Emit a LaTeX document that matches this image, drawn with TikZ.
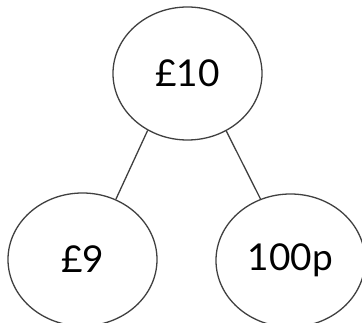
\documentclass[tikz,border=0pt]{standalone}
\usepackage{fontspec}
\setmainfont{Lato}
\usepackage{tikz}
\usetikzlibrary{shapes.geometric}
\tikzset{>=latex}
\tikzset{coin/.style={ellipse,draw=black!75,line width=1.3pt,minimum width=149pt,minimum height=133pt,inner sep=0pt,font=\fontsize{37}{44}\selectfont}}

\begin{document}
\begin{tikzpicture}[x=1pt,y=1pt]
    \useasboundingbox (0,0) rectangle (362,-323);
    \node[coin] (ten) at (187.5,-73.5) {£10};
    \node[coin] (nine) at (82.5,-259.5) {£9};
    \node[coin] (pence) at (290.5,-260.5) {100p};
    \draw[black!75,line width=1.3pt] (ten.235.8) -- (nine.61.4);
    \draw[black!75,line width=1.3pt] (ten.304.2) -- (pence.116);
\end{tikzpicture}
\end{document}
